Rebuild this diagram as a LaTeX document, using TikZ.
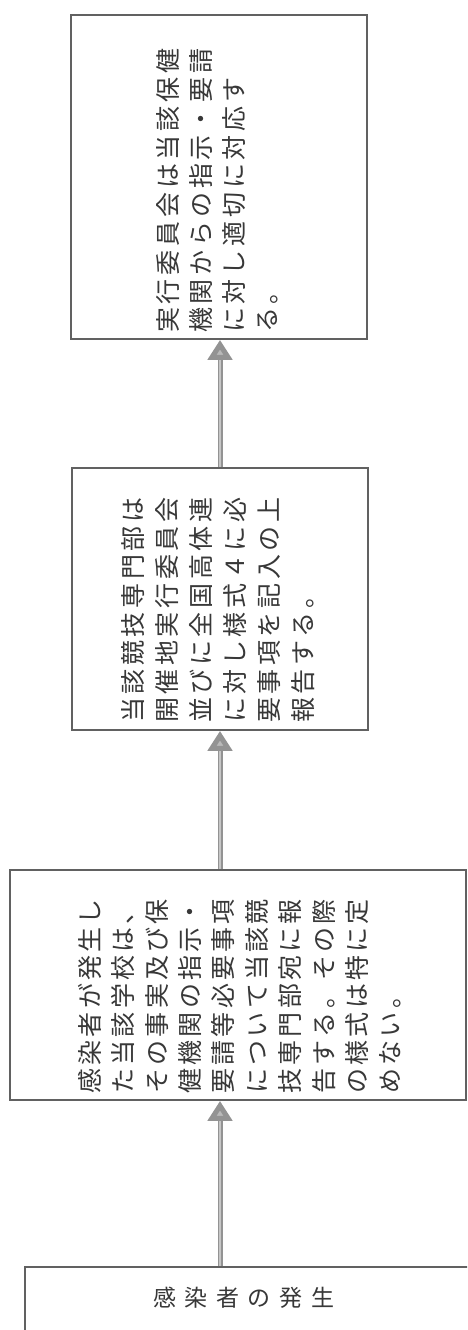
\documentclass[tikz,border=0pt]{standalone}
\usepackage{fontspec}
\usetikzlibrary{arrows.meta}
\newfontfamily\jp{Noto Sans CJK JP}
\newdimen\lspkern
\def\lsp#1{\ifx#1\relax\else#1\kern\lspkern\expandafter\lsp\fi}
\tikzset{
  box/.style={draw=black!62, line width=1.8pt, fill=white, inner sep=0pt},
  txt/.style={text=black!78, inner sep=0pt, align=left},
  conn/.style={draw=gray!85, line width=5pt, -{Triangle[width=24pt,length=20pt,fill=gray!55]}},
  conninner/.style={draw=gray!45, line width=1.6pt, shorten >=20pt}
}
\begin{document}
\begin{tikzpicture}[x=1pt,y=1pt]
\useasboundingbox (0,0) rectangle (467,-1330);
\clip (0,0) rectangle (467,-1330);
% boxes
\node[box, minimum width=296pt, minimum height=324pt] (b1) at (219,-177) {};
\node[box, minimum width=296pt, minimum height=262pt] (b2) at (220,-599) {};
\node[box, minimum width=456pt, minimum height=230pt] (b3) at (238,-985) {};
\node[box, minimum width=460pt, minimum height=64pt] (b4) at (255,-1299) {};
% texts
\node[txt, rotate=90, anchor=north west, font=\jp\fontsize{25}{33}\selectfont] (t1) at (156,-333)
  {\global\lspkern=3.8pt\relax\lsp 実行委員会は当該保健\relax\\\lsp 機関からの指示・要請\relax\\\lsp に対し適切に対応す\relax\\\lsp る。\relax};
\node[txt, rotate=90, anchor=north west, font=\jp\fontsize{25}{34}\selectfont] (t2) at (121,-723)
  {\global\lspkern=3.6pt\relax\lsp 当該競技専門部は\relax\\\lsp 開催地実行委員会\relax\\\lsp 並びに全国高体連\relax\\\lsp に対し様式４に必\relax\\\lsp 要事項を記入の上\relax\\\lsp 報告する。\relax};
\node[txt, rotate=90, anchor=north west, font=\jp\fontsize{25}{33.4}\selectfont] (t3) at (78,-1094)
  {\global\lspkern=3.3pt\relax\lsp 感染者が発生し\relax\\\lsp た当該学校は、\relax\\\lsp その事実及び保\relax\\\lsp 健機関の指示・\relax\\\lsp 要請等必要事項\relax\\\lsp について当該競\relax\\\lsp 技専門部宛に報\relax\\\lsp 告する。その際\relax\\\lsp の様式は特に定\relax\\\lsp めない。\relax};
\node[txt, anchor=west, font=\jp\fontsize{23}{28}\selectfont] (t4) at (153,-1298) {\global\lspkern=8.6pt\relax\lsp 感染者の発生\relax};
% connectors
\draw[conn] (b4.north -| b2.south) -- (b3.south -| b2.south);
\draw[conninner] (b4.north -| b2.south) -- (b3.south -| b2.south);
\draw[conn] (b3.north -| b2.south) -- (b2.south);
\draw[conninner] (b3.north -| b2.south) -- (b2.south);
\draw[conn] (b2.north) -- (b1.south -| b2.north);
\draw[conninner] (b2.north) -- (b1.south -| b2.north);
\end{tikzpicture}
\end{document}
